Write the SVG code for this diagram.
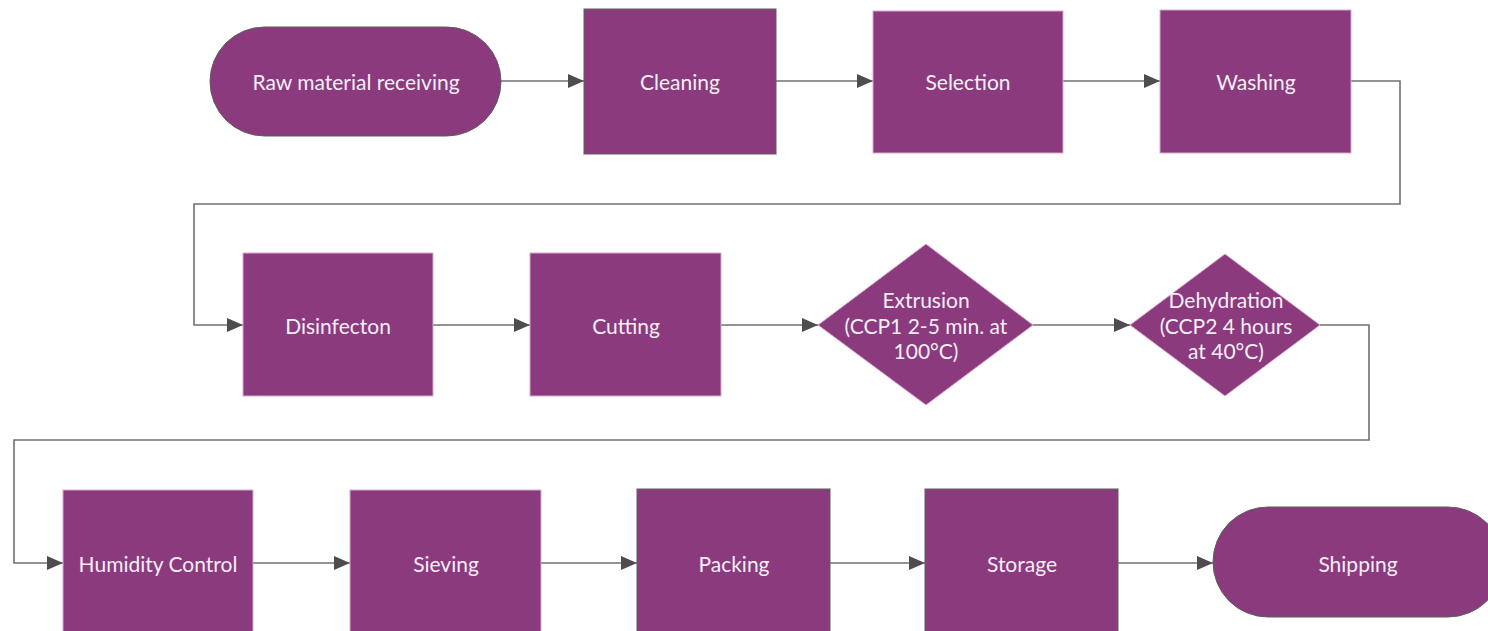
<svg xmlns="http://www.w3.org/2000/svg" width="1488" height="631" viewBox="0 0 1488 631">
<defs>
<style>
.n{fill:#8b3a7e;stroke:#5e5e5e;stroke-width:1}
.l{fill:#8b3a7e;stroke:#d9a8d0;stroke-width:1}
.t{font-family:Lato,"Open Sans",sans-serif;font-size:21px;fill:#f7eef5;text-anchor:middle;dominant-baseline:central}
.c{fill:none;stroke:#707070;stroke-width:1.6}
</style>
<marker id="a" markerWidth="16" markerHeight="14" refX="16" refY="7" orient="auto" markerUnits="userSpaceOnUse">
<path d="M0,0 L16,7 L0,14 Z" fill="#4f4b4f"/>
</marker>
</defs>
<rect width="1488" height="631" fill="#fff"/>
<g id="connectors">
<path class="c" d="M501,81 H584" marker-end="url(#a)"/>
<path class="c" d="M776,81 H873" marker-end="url(#a)"/>
<path class="c" d="M1063,81 H1160" marker-end="url(#a)"/>
<path class="c" d="M1351,81 H1400 V204 H194 V325 H243" marker-end="url(#a)"/>
<path class="c" d="M433,325 H530" marker-end="url(#a)"/>
<path class="c" d="M721,325 H818" marker-end="url(#a)"/>
<path class="c" d="M1033,325 H1130" marker-end="url(#a)"/>
<path class="c" d="M1320,325 H1369 V440 H14 V563 H63" marker-end="url(#a)"/>
<path class="c" d="M253,563 H350" marker-end="url(#a)"/>
<path class="c" d="M541,563 H637" marker-end="url(#a)"/>
<path class="c" d="M830,563 H925" marker-end="url(#a)"/>
<path class="c" d="M1118,563 H1213" marker-end="url(#a)"/>
</g>
<g id="raw"><rect class="n" x="210" y="27" width="291" height="109" rx="54.5"/><text class="t" x="356" y="81">Raw material receiving</text></g>
<g id="cleaning"><rect class="n" x="584" y="9" width="192" height="145"/><text class="t" x="680" y="81">Cleaning</text></g>
<g id="selection"><rect class="l" x="873" y="11" width="190" height="142"/><text class="t" x="968" y="81">Selection</text></g>
<g id="washing"><rect class="l" x="1160" y="10" width="191" height="143"/><text class="t" x="1256" y="81">Washing</text></g>
<g id="disinfection"><rect class="l" x="243" y="253" width="190" height="143"/><text class="t" x="338" y="325">Disinfecton</text></g>
<g id="cutting"><rect class="l" x="530" y="253" width="191" height="143"/><text class="t" x="626" y="325">Cutting</text></g>
<g id="extrusion"><polygon class="l" points="926,244 1033,325 926,405 818,325"/><text class="t" x="926" y="299">Extrusion</text><text class="t" x="926" y="325">(CCP1 2-5 min. at</text><text class="t" x="926" y="350">100°C)</text></g>
<g id="dehydration"><polygon class="l" points="1225,254 1320,325 1225,396 1130,325"/><text class="t" x="1226" y="299">Dehydration</text><text class="t" x="1226" y="325">(CCP2 4 hours</text><text class="t" x="1226" y="350">at 40°C)</text></g>
<g id="humidity"><rect class="l" x="63" y="490" width="190" height="150"/><text class="t" x="158" y="563">Humidity Control</text></g>
<g id="sieving"><rect class="l" x="350" y="490" width="191" height="150"/><text class="t" x="446" y="563">Sieving</text></g>
<g id="packing"><rect class="n" x="637" y="489" width="193" height="150"/><text class="t" x="734" y="563">Packing</text></g>
<g id="storage"><rect class="n" x="925" y="489" width="193" height="150"/><text class="t" x="1022" y="563">Storage</text></g>
<g id="shipping"><rect class="n" x="1213" y="507" width="290" height="110" rx="55"/><text class="t" x="1358" y="563">Shipping</text></g>
</svg>
